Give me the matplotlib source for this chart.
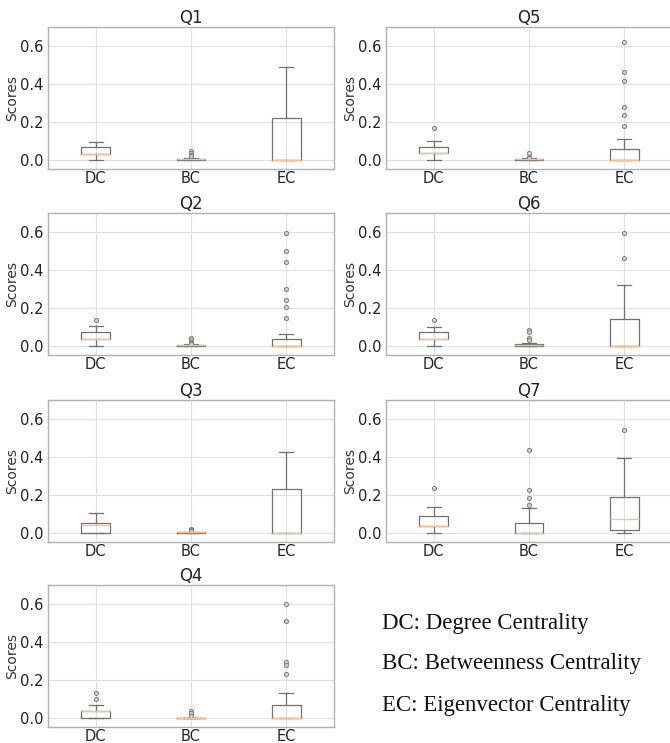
import matplotlib
matplotlib.use("Agg")
import matplotlib.pyplot as plt

categories = ["DC", "BC", "EC"]
panels = ["Q1", "Q2", "Q3", "Q4", "Q5", "Q6", "Q7"]

# per panel: [DC, BC, EC] each (q1, med, q3, whislo, whishi)
q1_stats = [(0.03, 0.03, 0.065, 0.0, 0.095), (0.0, 0.002, 0.005, 0.0, 0.01), (0.0, 0.0, 0.218, 0.0, 0.49)]
q1_fliers = [[], [0.045, 0.035, 0.025, 0.018], []]
q2_stats = [(0.037, 0.037, 0.07, 0.0, 0.102), (0.0, 0.002, 0.004, 0.0, 0.008), (0.0, 0.0, 0.032, 0.0, 0.061)]
q2_fliers = [[0.135], [0.038, 0.03, 0.02, 0.015, 0.01], [0.593, 0.498, 0.44, 0.298, 0.24, 0.202, 0.144]]
q3_stats = [(0.0, 0.038, 0.052, 0.0, 0.101), (0.0, 0.001, 0.003, 0.0, 0.005), (0.0, 0.0, 0.231, 0.0, 0.423)]
q3_fliers = [[], [0.02, 0.015, 0.01], []]
q4_stats = [(0.0, 0.035, 0.035, 0.0, 0.067), (0.0, 0.0, 0.0, 0.0, 0.0), (0.0, 0.0, 0.067, 0.0, 0.132)]
q4_fliers = [[0.1, 0.132], [0.035, 0.025, 0.01], [0.601, 0.508, 0.295, 0.277, 0.231]]
q5_stats = [(0.032, 0.032, 0.067, 0.0, 0.099), (0.0, 0.002, 0.004, 0.0, 0.008), (0.0, 0.0, 0.053, 0.0, 0.106)]
q5_fliers = [[0.167], [0.037, 0.015, 0.01], [0.62, 0.463, 0.414, 0.276, 0.236, 0.176]]
q6_stats = [(0.035, 0.035, 0.069, 0.0, 0.1), (0.0, 0.002, 0.009, 0.0, 0.014), (0.0, 0.0, 0.141, 0.0, 0.322)]
q6_fliers = [[0.134], [0.081, 0.069, 0.042, 0.028], [0.592, 0.46]]
q7_stats = [(0.037, 0.037, 0.087, 0.0, 0.135), (0.0, 0.0, 0.052, 0.0, 0.128), (0.012, 0.07, 0.189, 0.0, 0.392)]
q7_fliers = [[0.236], [0.143, 0.185, 0.224, 0.434], [0.539]]

all_stats = [q1_stats, q2_stats, q3_stats, q4_stats, q5_stats, q6_stats, q7_stats]
all_fliers = [q1_fliers, q2_fliers, q3_fliers, q4_fliers, q5_fliers, q6_fliers, q7_fliers]

legend_lines = ["DC: Degree Centrality", "BC: Betweenness Centrality", "EC: Eigenvector Centrality"]

W, H = 670, 743
fig = plt.figure(figsize=(W / 100, H / 100), dpi=100)

col_left = [48, 386]
ax_w = 286
row_top = [27, 213, 400, 585]
ax_h = 142

box_col = "#707070"
med_col = "#ffbf8a"

for i, name in enumerate(panels):
    col = 0 if i < 4 else 1
    row = i if i < 4 else i - 4
    l = col_left[col] / W
    b = 1 - (row_top[row] + ax_h) / H
    ax = fig.add_axes([l, b, ax_w / W, ax_h / H])
    stats = []
    for cat, s, f in zip(categories, all_stats[i], all_fliers[i]):
        stats.append(dict(label=cat, q1=s[0], med=s[1], q3=s[2], whislo=s[3], whishi=s[4], fliers=f))
    ax.bxp(stats, positions=[1, 2, 3], widths=0.3,
           boxprops=dict(color=box_col, linewidth=0.9),
           whiskerprops=dict(color=box_col, linewidth=0.9),
           capprops=dict(color=box_col, linewidth=0.9),
           medianprops=dict(color=med_col, linewidth=1.0),
           flierprops=dict(marker="o", markersize=3, markerfacecolor="#d0d0d0",
                           markeredgecolor="#808080", markeredgewidth=0.7))
    ax.set_xlim(0.5, 3.5)
    ax.set_ylim(-0.05, 0.7)
    ax.set_yticks([0.0, 0.2, 0.4, 0.6])
    ax.set_yticklabels(["0.0", "0.2", "0.4", "0.6"])
    ax.grid(True, color="#e0e0e0", linewidth=0.8)
    ax.set_axisbelow(True)
    for sp in ax.spines.values():
        sp.set_color("#b0b0b0")
        sp.set_linewidth(1.0)
    ax.tick_params(axis="y", length=0, labelsize=10.5, colors="#222222", pad=3)
    ax.tick_params(axis="x", length=0, labelsize=10.5, colors="#222222", pad=1.5)
    ax.set_ylabel("Scores", fontsize=10, color="#333333", labelpad=1)
    ax.set_title(name, fontsize=12, color="#222222", pad=3)

for k, txt in enumerate(legend_lines):
    fig.text(382 / W, 1 - (623 + 41 * k) / H, txt, family="Liberation Serif",
             fontsize=16.5, color="#111111", va="center", ha="left")

fig.savefig("out.png", dpi=100)
